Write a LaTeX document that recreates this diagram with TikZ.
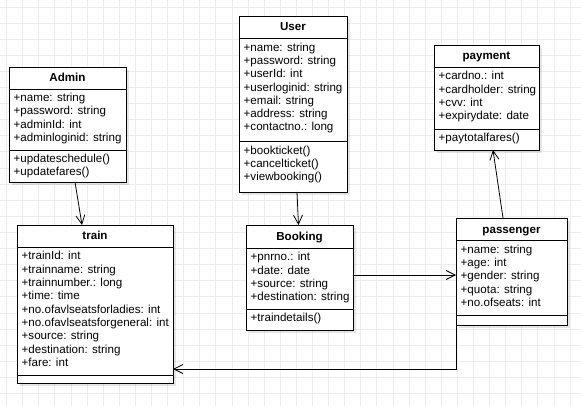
\documentclass[tikz,border=0pt]{standalone}
\usepackage{fontspec}
\setmainfont{Liberation Sans}
\usetikzlibrary{arrows.meta, shadows}

\begin{document}
        \begin{tikzpicture}[
            x = 1pt, y = -1pt,
            gridline/.style = {draw=black!7, line width=0.6pt},
            classbox/.style = {draw=black, fill=white, line width=0.8pt, inner sep=0pt, outer sep=0pt, anchor=north west,
                drop shadow={shadow xshift=3pt, shadow yshift=-3pt, opacity=0.1, fill=black}},
            divider/.style = {draw=black, line width=0.8pt},
            classname/.style = {font=\fontsize{11.6}{13.3}\selectfont\bfseries, inner sep=0pt, text height=9.6pt, text depth=2pt},
            members/.style = {font=\fontsize{11.6}{13.3}\selectfont, align=left, anchor=north west, inner sep=0pt},
            assoc/.style = {draw=black, line width=0.8pt, -{Straight Barb[length=9pt, width=9pt]}},
        ]
            \useasboundingbox (0,0) rectangle (581,406);
            \fill[white] (0,0) rectangle (581,406);
            \foreach \i in {0,...,35}
                \draw[gridline] ({6.4+16.1*\i},0) -- ({6.4+16.1*\i},406);
            \foreach \j in {0,...,24}
                \draw[gridline] (0,{6.9+16.1*\j}) -- (581,{6.9+16.1*\j});

            \node[classbox, minimum width=117, minimum height=115] (admin) at (9,67) {};
            \draw[divider] (admin.north west) ++(0,22) -- ++(117,0);
            \draw[divider] (admin.north west) ++(0,83) -- ++(117,0);
            \node[classname] (admin-name) at (67.5,78) {Admin};
            \node[members] (admin-attrs) at (13.5,93) {+name: string\\+password: string\\+adminId: int\\+adminloginid: string};
            \node[members] (admin-ops) at (13.5,154) {+updateschedule()\\+updatefares()};

            \node[classbox, minimum width=108, minimum height=176] (user) at (239,16) {};
            \draw[divider] (user.north west) ++(0,22.5) -- ++(108,0);
            \draw[divider] (user.north west) ++(0,125) -- ++(108,0);
            \node[classname] (user-name) at (293,27.2) {User};
            \node[members] (user-attrs) at (243.5,42.5) {+name: string\\+password: string\\+userId: int\\+userloginid: string\\+email: string\\+address: string\\+contactno.: long};
            \node[members] (user-ops) at (243.5,145.5) {+bookticket()\\+cancelticket()\\+viewbooking()};

            \node[classbox, minimum width=105, minimum height=105] (payment) at (434,45) {};
            \draw[divider] (payment.north west) ++(0,22.3) -- ++(105,0);
            \draw[divider] (payment.north west) ++(0,84) -- ++(105,0);
            \node[classname] (payment-name) at (486.5,56.2) {payment};
            \node[members] (payment-attrs) at (438.5,71.3) {+cardno.: int\\+cardholder: string\\+cvv: int\\+expirydate: date};
            \node[members] (payment-ops) at (438.5,133) {+paytotalfares()};

            \node[classbox, minimum width=156, minimum height=158] (train) at (17,225) {};
            \draw[divider] (train.north west) ++(0,22.3) -- ++(156,0);
            \draw[divider] (train.north west) ++(0,150) -- ++(156,0);
            \node[classname] (train-name) at (95,236.2) {train};
            \node[members] (train-attrs) at (21.5,251.3) {+trainId: int\\+trainname: string\\+trainnumber.: long\\+time: time\\+no.ofavlseatsforladies: int\\+no.ofavlseatsforgeneral: int\\+source: string\\+destination: string\\+fare: int};

            \node[classbox, minimum width=107, minimum height=105] (booking) at (246,225) {};
            \draw[divider] (booking.north west) ++(0,23.3) -- ++(107,0);
            \draw[divider] (booking.north west) ++(0,84.3) -- ++(107,0);
            \node[classname] (booking-name) at (299.5,236.7) {Booking};
            \node[members] (booking-attrs) at (250.5,252.3) {+pnrno.: int\\+date: date\\+source: string\\+destination: string};
            \node[members] (booking-ops) at (250.5,313.3) {+traindetails()};

            \node[classbox, minimum width=111, minimum height=107] (passenger) at (456,218) {};
            \draw[divider] (passenger.north west) ++(0,22.7) -- ++(111,0);
            \draw[divider] (passenger.north west) ++(0,97) -- ++(111,0);
            \node[classname] (passenger-name) at (511.5,229.4) {passenger};
            \node[members] (passenger-attrs) at (460.5,244.7) {+name: string\\+age: int\\+gender: string\\+quota: string\\+no.ofseats: int};

            \coordinate (booking-out) at ([yshift=2.5pt]booking.east);
            \draw[assoc] ([xshift=7.5pt]admin.south) -- ([xshift=-13pt]train.north);
            \draw[assoc] ([xshift=4pt]user.south) -- ([xshift=-1pt]booking.north);
            \draw[assoc] (booking-out) -- (booking-out -| passenger.west);
            \draw[assoc] ([xshift=-8.5pt]passenger.north) -- ([xshift=6.5pt]payment.south);
            \draw[assoc] (passenger.south west) |- ([yshift=-65pt]train.east);
        \end{tikzpicture}
\end{document}
